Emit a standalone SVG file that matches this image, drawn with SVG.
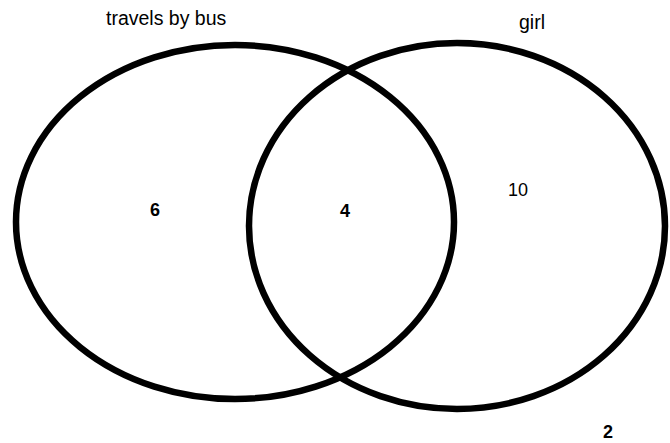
<svg xmlns="http://www.w3.org/2000/svg" width="670" height="443" viewBox="0 0 670 443">
<style>
.set{fill:none;stroke:#000;stroke-width:6.5}
.lbl{font-family:"Liberation Sans",Arial,sans-serif;font-size:19.5px;fill:#000}
.num{font-family:"Liberation Sans",Arial,sans-serif;font-size:18px;fill:#000;text-anchor:middle}
.b{font-weight:bold}
</style>
<rect width="670" height="443" fill="#fff"/>
<g id="set-bus">
<ellipse class="set" cx="235" cy="222" rx="219" ry="177"/>
<text class="lbl" x="106" y="25">travels by bus</text>
</g>
<g id="set-girl">
<ellipse class="set" cx="457" cy="226" rx="208" ry="183"/>
<text class="lbl" x="519" y="29">girl</text>
</g>
<g id="region-bus-only"><text class="num b" x="155" y="216">6</text></g>
<g id="region-both"><text class="num b" x="345" y="217">4</text></g>
<g id="region-girl-only"><text class="num" x="518" y="196">10</text></g>
<g id="region-outside"><text class="num b" x="608" y="438">2</text></g>
<g id="connectors"/>
</svg>
